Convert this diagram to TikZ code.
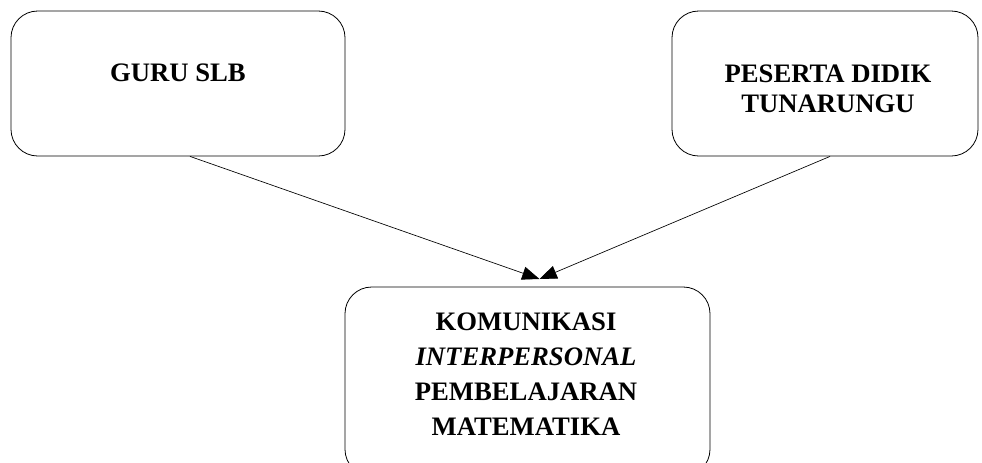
\documentclass[tikz,border=0pt]{standalone}
\usepackage{fontspec}
\setmainfont{Liberation Serif}
\usetikzlibrary{arrows.meta}
\begin{document}
\begin{tikzpicture}[x=0.75pt, y=-0.75pt,
    box/.style={draw, line width=0.6pt, rounded corners=20pt},
    lbl/.style={anchor=north, inner sep=0pt, align=center,
        font=\fontsize{20}{22.5}\selectfont\bfseries},
    arr/.style={-{Triangle[length=13pt, width=10pt]}, line width=0.5pt}]
        \useasboundingbox (0,0) rectangle (982,462);
        % the three boxes
        \node [box, minimum width=250.5pt, minimum height=108.75pt] (guru) at (178,83.5) {};
        \node [box, minimum width=229.5pt, minimum height=108.75pt] (siswa) at (825,83.5) {};
        \node [box, minimum width=273.75pt, minimum height=141.75pt] (kom) at (527.5,381.5) {};
        % texts
        \node [lbl] (guru text) at (178,64) {GURU SLB};
        \node [lbl] (siswa text) at (828,65) {PESERTA DIDIK\\TUNARUNGU};
        \node [lbl, font=\fontsize{20}{26.25}\selectfont\bfseries] (kom text) at (526,313)
            {KOMUNIKASI\\\textit{INTERPERSONAL}\\PEMBELAJARAN\\MATEMATIKA};
        % arrows
        \coordinate (meet) at (539.5,279);
        \draw [arr] ([xshift=9pt]guru.south) -- (meet);
        \draw [arr] ([xshift=3.75pt]siswa.south) -- (meet);
\end{tikzpicture}
\end{document}
